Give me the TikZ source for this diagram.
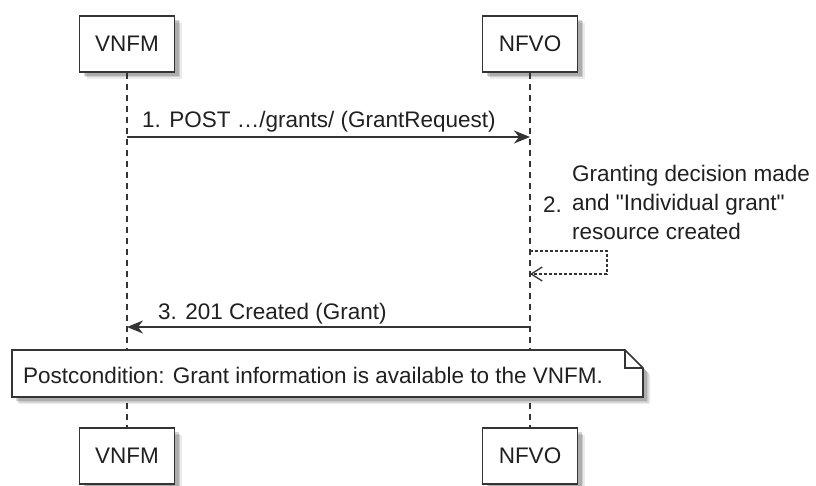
\documentclass[tikz,border=0pt]{standalone}
\usepackage{fontspec}
\setmainfont{Liberation Sans}[Ligatures=TeXOff]
\usetikzlibrary{arrows.meta,shadows,calc}
\definecolor{ln}{HTML}{343434}
\definecolor{tx}{HTML}{202020}
\begin{document}
\begin{tikzpicture}[x=1pt,y=-1pt,
  font=\fontsize{22.5}{29}\selectfont, text=tx,
  shad/.style={drop shadow={shadow xshift=7pt, shadow yshift=-7pt, fill=black, opacity=0.08},
               drop shadow={shadow xshift=5.5pt, shadow yshift=-5.5pt, fill=black, opacity=0.12},
               drop shadow={shadow xshift=4pt, shadow yshift=-4pt, fill=black, opacity=0.16}},
  actor/.style={draw=ln, line width=1.9pt, fill=white, minimum width=95pt, minimum height=56pt, inner sep=0pt, shad},
  life/.style={draw=ln, line width=1.5pt, dash pattern=on 6pt off 5pt},
  msg/.style={draw=ln, line width=1.7pt, -{Stealth[length=16pt,width=13pt,inset=5pt]}},
  selfmsg/.style={draw=ln, line width=1.3pt, dash pattern=on 3pt off 2pt, -{Straight Barb[length=11pt,width=14pt,line width=1.3pt]}},
  lbl/.style={anchor=base west, inner sep=0pt},
  notebox/.style={draw=ln, line width=1.6pt, fill=white, shad}]
\useasboundingbox (0,0) rectangle (816,486);
% participants
\node[actor] (vtop) at (127,44) {VNFM};
\node[actor] (ntop) at (530,44) {NFVO};
\node[actor] (vbot) at (127,456) {VNFM};
\node[actor] (nbot) at (530,456) {NFVO};
% lifelines
\draw[life] (vtop.south) -- (vbot.north);
\draw[life] (ntop.south) -- (nbot.north);
% levels
\coordinate (y1) at (0,137);
\coordinate (lp1) at (607,251);
\coordinate (lp2) at (607,274);
\coordinate (y3) at (0,327);
% message 1
\draw[msg] (vtop.south |- y1) -- (ntop.south |- y1);
\node[lbl] (l1) at (142,128) {1. POST …/grants/ (GrantRequest)};
% message 2 (self)
\draw[selfmsg] (ntop.south |- lp1) -- (lp1) -- (lp2) -- (ntop.south |- lp2);
\node[lbl] (l2n) at (543,213) {2.};
\node[lbl] (l2) at (572,182) {\begin{tabular}[t]{@{}l@{}}Granting decision made\\and "Individual grant"\\resource created\end{tabular}};
% message 3
\draw[msg] (ntop.south |- y3) -- (vtop.south |- y3);
\node[lbl] (l3) at (158,319) {3. 201 Created (Grant)};
% note
\draw[notebox] (12,350) -- (625,350) -- (643,368) -- (643,397) -- (12,397) -- cycle;
\draw[draw=ln, line width=1.6pt] (625,350) -- (625,368) -- (643,368);
\node[lbl] (note) at (23,383) {Postcondition: Grant information is available to the VNFM.};
\end{tikzpicture}
\end{document}
